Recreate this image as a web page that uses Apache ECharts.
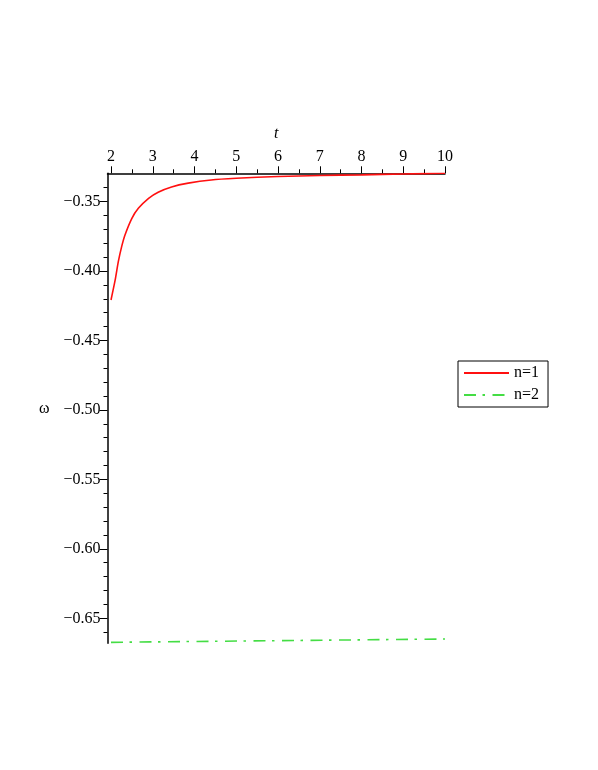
<!DOCTYPE html>
<html>
<head>
<meta charset="utf-8">
<script src="https://cdn.jsdelivr.net/npm/echarts@6/dist/echarts.min.js"></script>
<style>
  html, body { margin: 0; padding: 0; background: #fff; }
  #main { width: 598px; height: 770px; }
</style>
</head>
<body>
<div id="main"></div>
<script>
// values
const tRed = [2.0, 2.1, 2.175, 2.255, 2.335, 2.5, 2.655, 2.9, 3.13, 3.45, 3.85, 4.4, 5, 6, 7, 8, 9, 10];
const omegaRed = [-0.4208, -0.4064, -0.3932, -0.3824, -0.3740, -0.3620, -0.3548, -0.3476, -0.3432,
  -0.3394, -0.3367, -0.3344, -0.3332, -0.3319, -0.3312, -0.3307, -0.3301, -0.3296];
const tGreen = [2, 6, 10];
const omegaGreen = [-0.6673, -0.6661, -0.6649];

const xTicks = [2, 3, 4, 5, 6, 7, 8, 9, 10];
const xMinorTicks = [2.5, 3.5, 4.5, 5.5, 6.5, 7.5, 8.5, 9.5];
const yTicks = [-0.65, -0.60, -0.55, -0.50, -0.45, -0.40, -0.35];
const yMinorTicks = [-0.66, -0.64, -0.63, -0.62, -0.61, -0.59, -0.58, -0.57, -0.56, -0.54, -0.53,
  -0.52, -0.51, -0.49, -0.48, -0.47, -0.46, -0.44, -0.43, -0.42, -0.41, -0.39, -0.38, -0.37,
  -0.36, -0.34];

const font = 'Liberation Serif';
const xMin = 1.916, xMax = 10;
const yMin = -0.668, yMax = -0.3296;

const chart = echarts.init(document.getElementById('main'));
const option = {
  animation: false,
  grid: {
    left: 107.5,
    top: 173.3,
    width: 337.5,
    height: 470,
    containLabel: false,
    outerBoundsMode: 'none'
  },
  legend: {
    orient: 'vertical',
    left: 458,
    top: 361,
    data: ['n=1', 'n=2'],
    itemWidth: 45,
    itemHeight: 14,
    itemGap: 6,
    padding: [4, 9, 4, 5],
    borderColor: '#000',
    borderWidth: 1,
    itemStyle: { opacity: 0 },
    textStyle: { fontFamily: font, fontSize: 16, color: '#000' }
  },
  xAxis: [
    {
      type: 'value',
      position: 'top',
      min: xMin,
      max: xMax,
      name: 't',
      nameLocation: 'middle',
      nameGap: 32,
      nameTextStyle: { fontFamily: font, fontSize: 16, fontStyle: 'italic', color: '#000' },
      axisLine: { lineStyle: { color: '#000', width: 1.5 } },
      axisTick: { customValues: xTicks, length: 7, lineStyle: { color: '#000', width: 1 } },
      axisLabel: {
        customValues: xTicks,
        margin: 9,
        fontFamily: font,
        fontSize: 16,
        color: '#000'
      },
      splitLine: { show: false }
    },
    {
      type: 'value',
      position: 'top',
      min: xMin,
      max: xMax,
      axisLine: { show: false },
      axisTick: { customValues: xMinorTicks, length: 4, lineStyle: { color: '#000', width: 1 } },
      axisLabel: { show: false },
      splitLine: { show: false }
    }
  ],
  yAxis: [
    {
      type: 'value',
      position: 'left',
      min: yMin,
      max: yMax,
      name: 'ω',
      nameLocation: 'middle',
      nameRotate: 0,
      nameGap: 58,
      nameTextStyle: { fontFamily: font, fontSize: 16, color: '#000' },
      axisLine: { lineStyle: { color: '#000', width: 1.5 } },
      axisTick: { customValues: yTicks, length: 8, lineStyle: { color: '#000', width: 1 } },
      axisLabel: {
        customValues: yTicks,
        margin: 7,
        fontFamily: font,
        fontSize: 16,
        color: '#000',
        formatter: (v) => '\u2212' + Math.abs(v).toFixed(2)
      },
      splitLine: { show: false }
    },
    {
      type: 'value',
      position: 'left',
      min: yMin,
      max: yMax,
      axisLine: { show: false },
      axisTick: { customValues: yMinorTicks, length: 4, lineStyle: { color: '#000', width: 1 } },
      axisLabel: { show: false },
      splitLine: { show: false }
    }
  ],
  series: [
    {
      name: 'n=1',
      type: 'line',
      xAxisIndex: 0,
      yAxisIndex: 0,
      data: tRed.map((t, i) => [t, omegaRed[i]]),
      smooth: 0.25,
      symbol: 'none',
      lineStyle: { color: '#ff1010', width: 1.6 },
      itemStyle: { color: '#ff1010' }
    },
    {
      name: 'n=2',
      type: 'line',
      xAxisIndex: 0,
      yAxisIndex: 0,
      data: tGreen.map((t, i) => [t, omegaGreen[i]]),
      symbol: 'none',
      lineStyle: { color: '#44dd44', width: 1.6, type: [12, 6.5, 2.5, 7.5] },
      itemStyle: { color: '#44dd44' }
    }
  ]
};
chart.setOption(option);
window.onresize = function () {
  chart.resize();
};
</script>
</body>
</html>
